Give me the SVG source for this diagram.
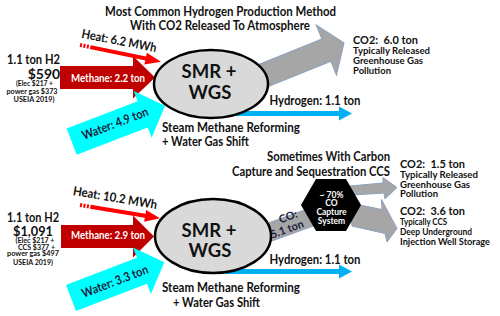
<svg xmlns="http://www.w3.org/2000/svg" width="500" height="316" viewBox="0 0 500 316">
<style>
text{font-family:Lato,"Open Sans","Liberation Sans",sans-serif;font-weight:bold;fill:#111;}
.t13{font-size:13px;}
.t12{font-size:12.5px;}
.t10{font-size:9px;}
.co2{font-size:12px;}
.sm{font-size:7px;}
.hx{font-size:8.5px;}
.mid{text-anchor:middle;}
.wh{fill:#fff;}
.navy{fill:#1b1f3f;}
.big{font-size:18.5px;font-weight:bold;}
.meth{fill:#c00000;}
.water{fill:#00ffff;}
.heat{fill:#ff0000;}
.gray{fill:#a6a6a6;stroke:#8aa2c0;stroke-width:1;}
.h2{fill:#00b0f0;}
.ell{fill:#d9d9d9;stroke:#000;stroke-width:2.5;}
</style>

<g id="title-top">
<text class="t13 mid" x="220.5" y="15.5" textLength="231" lengthAdjust="spacingAndGlyphs">Most Common Hydrogen Production Method</text>
<text class="t13 mid" x="220" y="29.5" textLength="180" lengthAdjust="spacingAndGlyphs">With CO2 Released To Atmosphere</text>
</g>

<g id="cost-top">
<text class="t13 mid" x="33.5" y="64" style="font-size:12.5px" textLength="53" lengthAdjust="spacingAndGlyphs">1.1 ton H2</text>
<text class="mid" x="44" y="78.5" style="font-size:14px">$590</text>
<text class="sm mid" x="34.5" y="86" textLength="37" lengthAdjust="spacingAndGlyphs">(Elec $217 +</text>
<text class="sm mid" x="32" y="94" textLength="51" lengthAdjust="spacingAndGlyphs">power gas $373</text>
<text class="sm mid" x="34" y="102" textLength="41" lengthAdjust="spacingAndGlyphs">USEIA 2019)</text>
</g>

<g id="connectors">
<g id="co2-top-arrow" transform="translate(344,43) rotate(-22)">
<polygon class="gray" points="0,0 -19,-27 -19,-12 -110,-12 -110,12 -19,12 -19,27"/>
</g>
<g id="h2-top-arrow">
<rect class="h2" x="225" y="111" width="116" height="5"/>
<polygon class="h2" points="339,106.5 352,113.5 339,120.5"/>
</g>
<g id="methane-top-arrow">
<polygon class="meth" points="60,66 133,66 133,56 155,77.5 133,98.5 133,89 60,89"/>
<text class="wh mid" x="108" y="82" style="font-size:11.5px" textLength="74" lengthAdjust="spacingAndGlyphs">Methane: 2.2 ton</text>
</g>
<g id="water-top-arrow" transform="translate(71.7,141.6) rotate(-21)">
<polygon class="water" points="0,-14 76,-14 76,-25 100,0 76,25 76,14 0,14"/>
<text class="t12 navy mid" x="47" y="3" textLength="70" lengthAdjust="spacingAndGlyphs">Water: 4.9 ton</text>
</g>
<g id="heat-top-arrow" transform="translate(80,45) rotate(11.65)">
<rect class="heat" x="0" y="-2" width="2" height="4"/>
<rect class="heat" x="3.5" y="-2" width="2" height="4"/>
<rect class="heat" x="7" y="-2" width="2" height="4"/>
<rect class="heat" x="10.5" y="-2" width="58" height="4"/>
<polygon class="heat" points="67,-6 82.7,0 67,6"/>
</g>

<g id="co-bottom-arrow">
<polygon class="gray" points="240.1,233.3 310.6,207.7 316.8,224.7 246.3,250.3"/>
</g>
<g id="co2-bottom-upper-arrow">
<polygon class="gray" points="350,186 383,183 383,177.5 397,187.5 385,199 384,193 352,195"/>
</g>
<g id="co2-bottom-lower-arrow">
<polygon class="gray" points="350,203 382,209.5 381.5,199.5 397,228.5 387,242 385,233.5 352,226"/>
</g>
<g id="h2-bottom-arrow">
<rect class="h2" x="225" y="269" width="116" height="5"/>
<polygon class="h2" points="339,264.5 352,271.5 339,278.5"/>
</g>
<g id="methane-bottom-arrow">
<polygon class="meth" points="61,225 133,225 133,215.5 154,236.5 133,257.5 133,248 61,248"/>
<text class="wh mid" x="108" y="239" style="font-size:11.5px" textLength="74" lengthAdjust="spacingAndGlyphs">Methane: 2.9 ton</text>
</g>
<g id="water-bottom-arrow" transform="translate(71,298) rotate(-21)">
<polygon class="water" points="0,-14 76,-14 76,-25 100,0 76,25 76,14 0,14"/>
<text class="t12 navy mid" x="47" y="4.5" textLength="70" lengthAdjust="spacingAndGlyphs">Water: 3.3 ton</text>
</g>
<g id="heat-bottom-arrow" transform="translate(80,205) rotate(9.44)">
<rect class="heat" x="0" y="-2" width="2" height="4"/>
<rect class="heat" x="3.5" y="-2" width="2" height="4"/>
<rect class="heat" x="7" y="-2" width="2" height="4"/>
<rect class="heat" x="10.5" y="-2" width="57" height="4"/>
<polygon class="heat" points="66,-6 81.1,0 66,6"/>
</g>
</g>

<g id="heat-labels">
<text class="t12 mid" x="119" y="45" transform="rotate(11 119 41)" textLength="76" lengthAdjust="spacingAndGlyphs">Heat: 6.2 MWh</text>
<text class="t12 mid" x="115" y="202" transform="rotate(9.5 115 198)" textLength="85" lengthAdjust="spacingAndGlyphs">Heat: 10.2 MWh</text>
</g>

<g id="smr-top">
<ellipse class="ell" cx="211" cy="84" rx="57" ry="34"/>
<text class="big mid" x="209" y="77.5">SMR +</text>
<text class="big mid" x="210" y="98.5">WGS</text>
</g>

<g id="labels-top">
<text class="t12 mid" x="315" y="104.5" textLength="91" lengthAdjust="spacingAndGlyphs">Hydrogen: 1.1 ton</text>
<text class="t13" x="162" y="131.7" textLength="138" lengthAdjust="spacingAndGlyphs">Steam Methane Reforming</text>
<text class="t13" x="162" y="145.7" textLength="87" lengthAdjust="spacingAndGlyphs">+ Water Gas Shift</text>
</g>

<g id="co2-top">
<text class="co2" x="353" y="44" xml:space="preserve" textLength="65" lengthAdjust="spacingAndGlyphs">CO2:  6.0 ton</text>
<text class="t10" x="353" y="54" textLength="77" lengthAdjust="spacingAndGlyphs">Typically Released</text>
<text class="t10" x="353" y="64" textLength="70" lengthAdjust="spacingAndGlyphs">Greenhouse Gas</text>
<text class="t10" x="353" y="74" textLength="38" lengthAdjust="spacingAndGlyphs">Pollution</text>
</g>

<g id="title-bottom">
<text class="t13 mid" x="328.5" y="160.5" textLength="123" lengthAdjust="spacingAndGlyphs">Sometimes With Carbon</text>
<text class="t13 mid" x="311" y="175.5" textLength="158" lengthAdjust="spacingAndGlyphs">Capture and Sequestration CCS</text>
</g>

<g id="cost-bottom">
<text class="t13 mid" x="33" y="222" style="font-size:12.5px" textLength="52" lengthAdjust="spacingAndGlyphs">1.1 ton H2</text>
<text class="mid" x="33" y="235.5" style="font-size:14px" textLength="40" lengthAdjust="spacingAndGlyphs">$1,091</text>
<text class="sm mid" x="35" y="243" style="font-size:6.5px" textLength="39" lengthAdjust="spacingAndGlyphs">(Elec $217 +</text>
<text class="sm mid" x="36.5" y="249.5" style="font-size:6.5px" textLength="37" lengthAdjust="spacingAndGlyphs">CCS $377 +</text>
<text class="sm mid" x="33" y="256" style="font-size:6.5px" textLength="52" lengthAdjust="spacingAndGlyphs">power gas $497</text>
<text class="sm mid" x="33" y="264.5" style="font-size:6.5px" textLength="40" lengthAdjust="spacingAndGlyphs">USEIA 2019)</text>
</g>

<g id="smr-bottom">
<ellipse class="ell" cx="213" cy="236" rx="58" ry="37"/>
<text class="big mid" x="209" y="236.5">SMR +</text>
<text class="big mid" x="210" y="257">WGS</text>
</g>

<g id="co-label">
<text class="navy mid" x="288" y="220.5" style="font-size:11px" transform="rotate(-20 288 216.5)">CO:</text>
<text class="navy mid" x="287" y="233" style="font-size:11px" transform="rotate(-20 287 229)">5.1 ton</text>
</g>

<g id="capture-system">
<polygon fill="#000" points="361,205 346,231 316,231 301,205 316,179 346,179"/>
<text class="wh mid hx" x="331.5" y="197.5">~ 70%</text>
<text class="wh mid hx" x="331.5" y="206.2">CO</text>
<text class="wh mid hx" x="331.5" y="214.9">Capture</text>
<text class="wh mid hx" x="331.5" y="223.6">System</text>
</g>

<g id="labels-bottom">
<text class="t12 mid" x="315" y="263.8" textLength="91" lengthAdjust="spacingAndGlyphs">Hydrogen: 1.1 ton</text>
<text class="t13" x="162" y="291.7" textLength="138" lengthAdjust="spacingAndGlyphs">Steam Methane Reforming</text>
<text class="t13" x="173" y="306.7" textLength="87" lengthAdjust="spacingAndGlyphs">+ Water Gas Shift</text>
</g>

<g id="co2-bottom">
<text class="co2" x="400" y="168" xml:space="preserve" textLength="65" lengthAdjust="spacingAndGlyphs">CO2:  1.5 ton</text>
<text class="t10" x="400" y="178" textLength="78" lengthAdjust="spacingAndGlyphs">Typically Released</text>
<text class="t10" x="400" y="187.7" textLength="70" lengthAdjust="spacingAndGlyphs">Greenhouse Gas</text>
<text class="t10" x="400" y="197.4" textLength="38" lengthAdjust="spacingAndGlyphs">Pollution</text>
<text class="co2" x="400" y="215" xml:space="preserve" textLength="65" lengthAdjust="spacingAndGlyphs">CO2:  3.6 ton</text>
<text class="t10" x="400" y="225" textLength="47" lengthAdjust="spacingAndGlyphs">Typically CCS</text>
<text class="t10" x="400" y="234.8" textLength="72" lengthAdjust="spacingAndGlyphs">Deep Underground</text>
<text class="t10" x="400" y="244.6" textLength="90" lengthAdjust="spacingAndGlyphs">Injection Well Storage</text>
</g>
</svg>
